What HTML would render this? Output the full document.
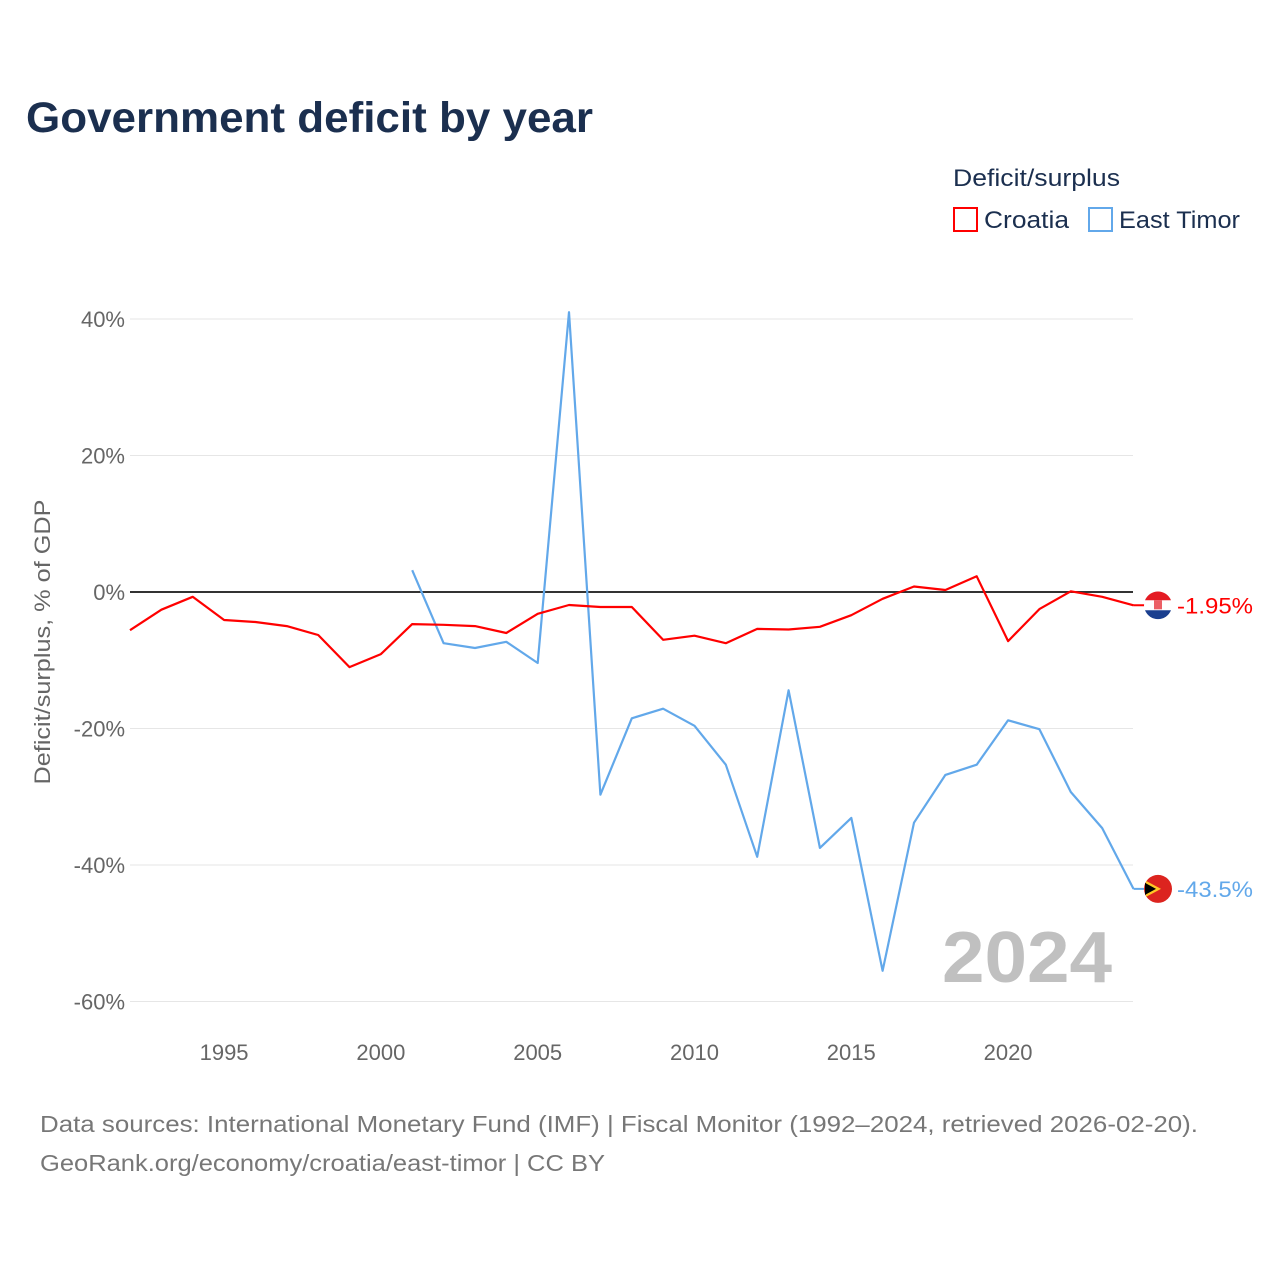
<!DOCTYPE html>
<html><head><meta charset="utf-8"><style>
body{margin:0;background:#fff;font-family:"Liberation Sans",sans-serif;}
svg text{font-family:"Liberation Sans",sans-serif;}
</style></head><body>
<svg width="1280" height="1280" viewBox="0 0 1280 1280">
<text x="26" y="132" font-size="43" font-weight="bold" fill="#1b2f4f" textLength="567" lengthAdjust="spacingAndGlyphs">Government deficit by year</text>
<text x="953" y="186" font-size="24" fill="#1b2f4f" textLength="167" lengthAdjust="spacingAndGlyphs">Deficit/surplus</text>
<g><rect x="954" y="208" width="23" height="23" fill="none" stroke="#ff0000" stroke-width="2"/><text x="984" y="228" font-size="24" fill="#1b2f4f" textLength="85" lengthAdjust="spacingAndGlyphs">Croatia</text></g>
<g><rect x="1089" y="208" width="23" height="23" fill="none" stroke="#62a8ea" stroke-width="2"/><text x="1119" y="228" font-size="24" fill="#1b2f4f" textLength="121" lengthAdjust="spacingAndGlyphs">East Timor</text></g>
<g id="grid"></g><g id="axes"></g><g id="lines"></g>
<text x="942" y="982" font-size="72" font-weight="bold" fill="#c0c0c0" textLength="170" lengthAdjust="spacingAndGlyphs">2024</text>
<text transform="translate(50,642) rotate(-90)" font-size="22" fill="#666" text-anchor="middle" textLength="285" lengthAdjust="spacingAndGlyphs">Deficit/surplus, % of GDP</text>
<text x="40" y="1132" font-size="23" fill="#777" textLength="1158" lengthAdjust="spacingAndGlyphs">Data sources: International Monetary Fund (IMF) | Fiscal Monitor (1992–2024, retrieved 2026-02-20).</text>
<text x="40" y="1171" font-size="23" fill="#777" textLength="565" lengthAdjust="spacingAndGlyphs">GeoRank.org/economy/croatia/east-timor | CC BY</text>
</svg>
<script>
const years=[1992,1993,1994,1995,1996,1997,1998,1999,2000,2001,2002,2003,2004,2005,2006,2007,2008,2009,2010,2011,2012,2013,2014,2015,2016,2017,2018,2019,2020,2021,2022,2023,2024];
const croatia=[-5.6,-2.6,-0.7,-4.1,-4.4,-5.0,-6.3,-11.0,-9.1,-4.7,-4.8,-5.0,-6.0,-3.2,-1.9,-2.2,-2.2,-7.0,-6.4,-7.5,-5.4,-5.5,-5.1,-3.4,-1.0,0.8,0.3,2.3,-7.2,-2.5,0.1,-0.7,-1.95];
const timor=[null,null,null,null,null,null,null,null,null,3.2,-7.5,-8.2,-7.3,-10.4,41.0,-29.7,-18.5,-17.1,-19.6,-25.3,-38.8,-14.4,-37.5,-33.1,-55.5,-33.8,-26.8,-25.3,-18.8,-20.1,-29.3,-34.6,-43.5];
const yTicks=[40,20,0,-20,-40,-60];
const xTicks=[1995,2000,2005,2010,2015,2020];
const NS="http://www.w3.org/2000/svg";
const x=v=>130+(v-1992)*31.36;
const y=v=>592-v*6.825;
function mk(t,a,p){const e=document.createElementNS(NS,t);for(const k in a)e.setAttribute(k,a[k]);p.appendChild(e);return e;}
const grid=document.getElementById('grid'),axes=document.getElementById('axes'),lines=document.getElementById('lines');
yTicks.forEach(t=>{
 const l=mk('line',{x1:130,x2:1133,y1:y(t),y2:y(t),stroke:t===0?'#333':'#e6e6e6','stroke-width':t===0?2:1},grid);
 
 
 const tx=mk('text',{x:125,y:y(t)+8,'font-size':22,fill:'#666','text-anchor':'end'},axes);
 tx.textContent=t+'%';
 
 
});
xTicks.forEach(t=>{
 const tx=mk('text',{x:x(t),y:1060,'font-size':22,fill:'#666','text-anchor':'middle'},axes);
 tx.textContent=t;
 
 
});
function path(vals,color,name){
 let d='';let started=false;
 vals.forEach((v,i)=>{if(v===null){started=false;return;}d+=(started?'L':'M')+x(years[i]).toFixed(1)+','+y(v).toFixed(1);started=true;});
 const p=mk('path',{d:d,fill:'none',stroke:color,'stroke-width':2.2,'stroke-linejoin':'round'},lines);
 
 
}
path(timor,'#62a8ea','east-timor-line');
path(croatia,'#ff0000','croatia-line');
function endLabel(vals,color,name,flag){
 const v=vals[vals.length-1];const cx=1158,cy=y(v);
 const g=mk('g',{},lines);
 
 
 mk('line',{x1:x(2024),x2:cx,y1:y(v),y2:y(v),stroke:color,'stroke-width':2},g);
 if(flag==='hr'){
  mk('circle',{cx:cx,cy:cy,r:14,fill:'#fff'},g);
  mk('path',{d:`M${cx-13},${cy-5} A14,14 0 0 1 ${cx+13},${cy-5} Z`,fill:'#e41b23'},g);
  mk('path',{d:`M${cx-13},${cy+5} A14,14 0 0 0 ${cx+13},${cy+5} Z`,fill:'#1a3f8f'},g);
  mk('rect',{x:cx-4,y:cy-5,width:8,height:9,fill:'#e41b23',opacity:0.7},g);
 } else {
  mk('circle',{cx:cx,cy:cy,r:14,fill:'#dc241f'},g);
  mk('path',{d:`M${cx-12},${cy-8} L${cx+3},${cy} L${cx-12},${cy+8} Z`,fill:'#ffc726'},g);
  mk('path',{d:`M${cx-13},${cy-6} L${cx-2},${cy} L${cx-13},${cy+6} Z`,fill:'#000'},g);
 }
 const t=mk('text',{x:1177,y:y(v)+8,'font-size':22,fill:color,textLength:76,lengthAdjust:'spacingAndGlyphs'},g);
 t.textContent=(Math.abs(v)<10?v.toFixed(2):v.toFixed(1))+'%';
}
endLabel(croatia,'#ff0000','croatia','hr');
endLabel(timor,'#62a8ea','east-timor','tl');
</script>
</body></html>
